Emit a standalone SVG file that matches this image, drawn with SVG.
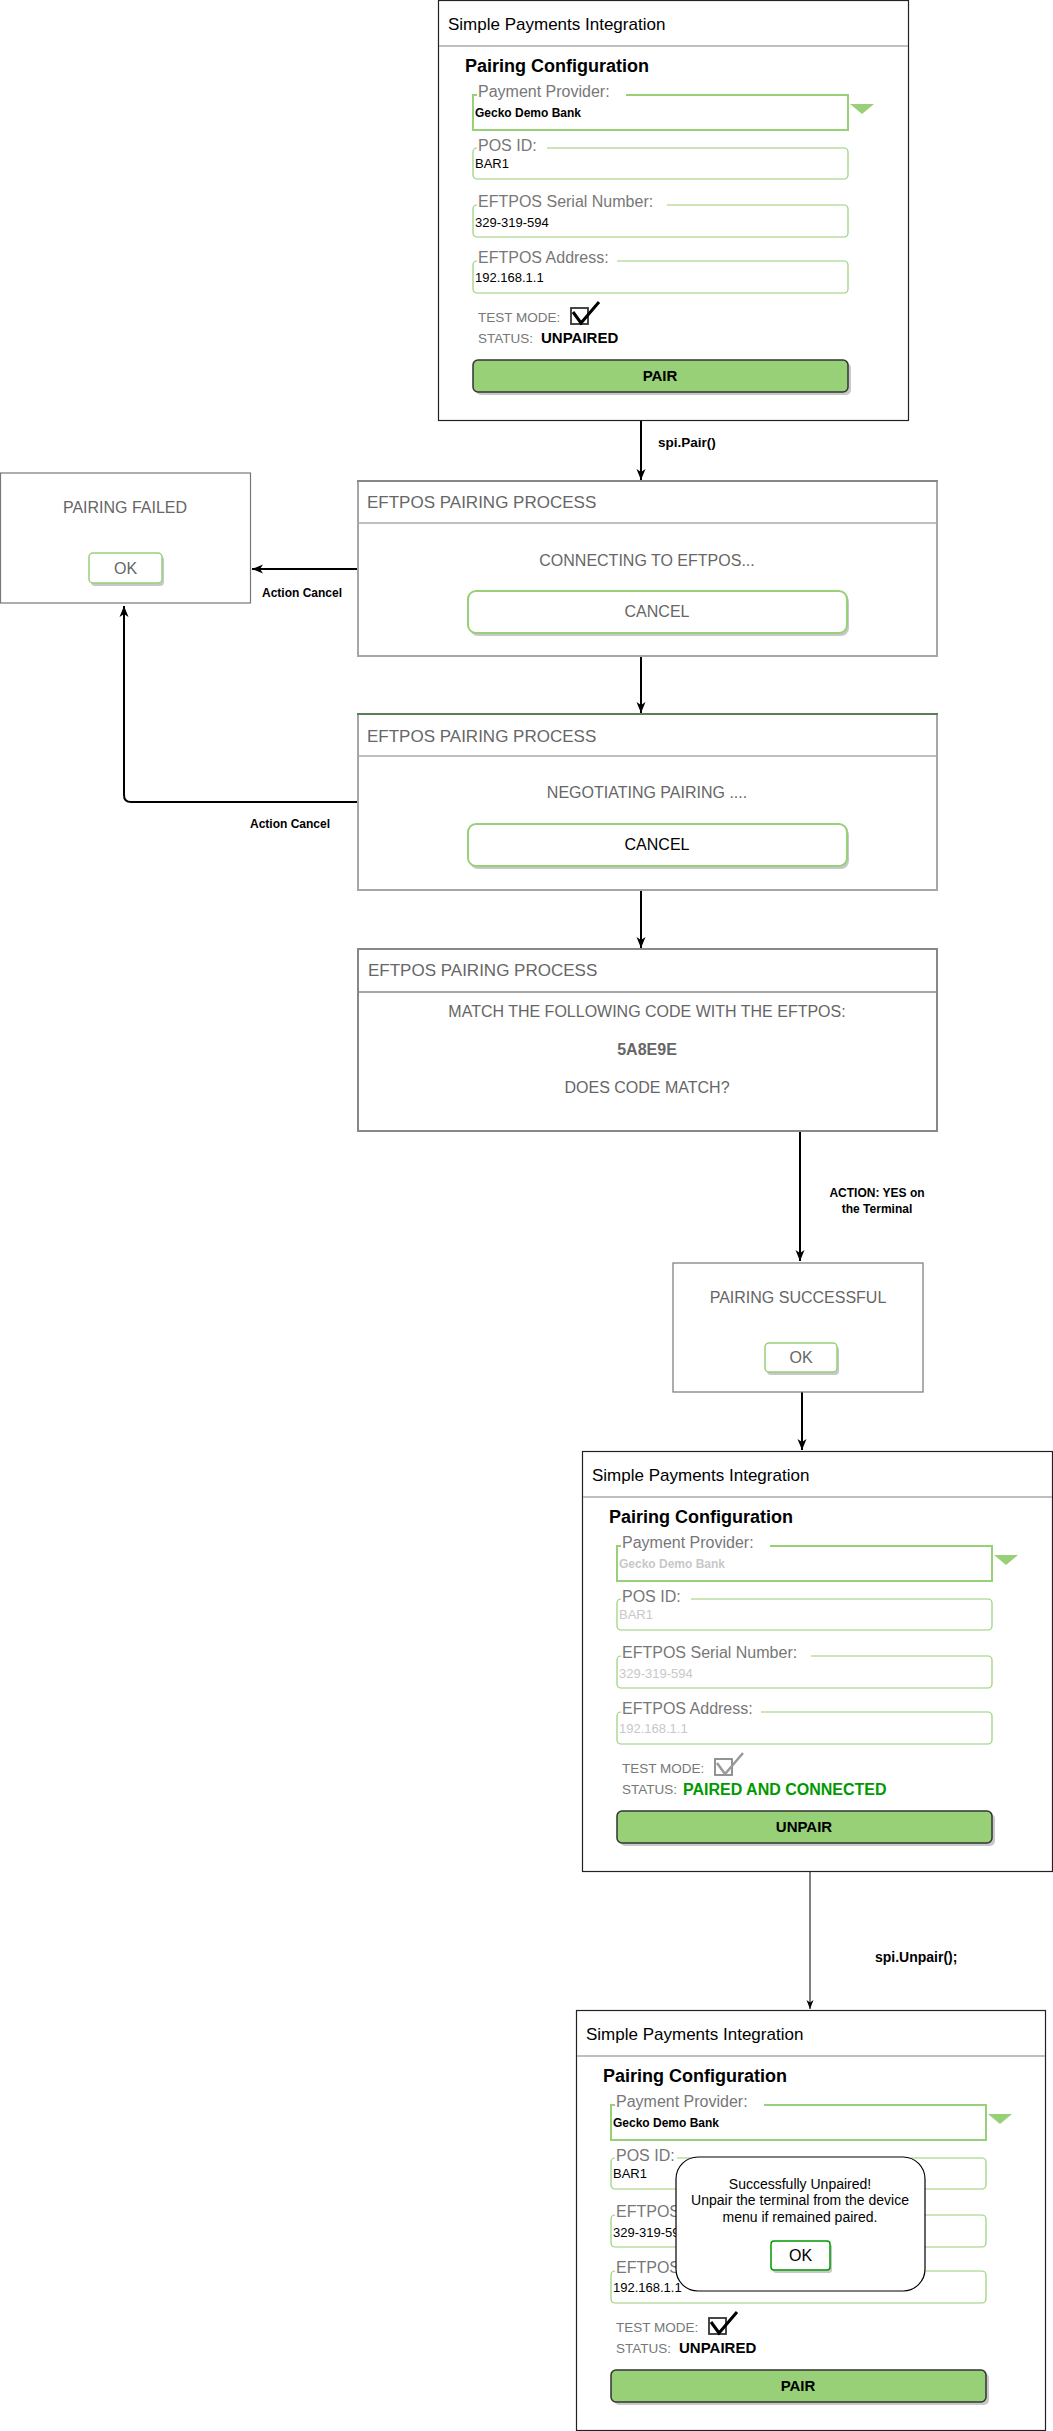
<svg xmlns="http://www.w3.org/2000/svg" width="1053" height="2431" viewBox="0 0 1053 2431">
<style>
text{font-family:"Liberation Sans",Arial,Helvetica,sans-serif}
.t17{font-size:17px;fill:#000}
.h18{font-size:18px;font-weight:bold;fill:#000}
.lbl{font-size:16px;fill:#777}
.val{font-size:13px;fill:#000}
.valg{font-size:13px;fill:#c8c8c8}
.bv{font-size:12px;font-weight:bold;fill:#000}
.bvg{font-size:12px;font-weight:bold;fill:#c8c8c8}
.sm{font-size:13.5px;fill:#777}
.fld{fill:none;stroke:#97D077;stroke-width:1.2}
.fld2{fill:none;stroke:#97D077;stroke-width:2}
.win{fill:#fff;stroke:#222;stroke-width:1.2}
.sep{stroke:#aaa;stroke-width:1.5}
.btn{fill:#97D077;stroke:#333;stroke-width:1.5}
.shd{fill:#c8c8c8}
.btxt{font-size:15px;font-weight:bold;fill:#000;text-anchor:middle}
.ebox{fill:#fff;stroke:#a6a6a6;stroke-width:2}
.etitle{font-size:17px;fill:#666}
.ebody{font-size:16px;fill:#666;text-anchor:middle}
.gbtn{fill:#fff;stroke:#97D077;stroke-width:2}
.edge{fill:none;stroke:#000;stroke-width:2}
.edge1{fill:none;stroke:#000;stroke-width:1}
.elbl{font-size:12px;font-weight:bold;fill:#000}
.pbox{fill:#fff;stroke:#777;stroke-width:1.2}
</style>
<defs>
<marker id="arr" markerUnits="userSpaceOnUse" markerWidth="12" markerHeight="12" viewBox="0 0 12 12" refX="11" refY="6" orient="auto">
<path d="M0,1.5 L11,6 L0,10.5 L3,6 z" fill="#000"/>
</marker>
<marker id="arrs" markerUnits="userSpaceOnUse" markerWidth="10" markerHeight="10" viewBox="0 0 10 10" refX="9" refY="5" orient="auto">
<path d="M0,1.5 L9,5 L0,8.5 L2.5,5 z" fill="#000"/>
</marker>
<clipPath id="clipA"><rect x="0" y="0" width="100" height="420"/></clipPath>
<clipPath id="clipB"><rect x="0" y="0" width="111" height="420"/></clipPath>
</defs>

<g id="connectors">
<path class="edge" d="M641,421 L641,480" marker-end="url(#arr)"/>
<path class="edge" d="M357,569 L252,569" marker-end="url(#arr)"/>
<path class="edge" d="M641,656 L641,713" marker-end="url(#arr)"/>
<path class="edge" d="M357,802 L131,802 Q124,802 124,795 L124,606" marker-end="url(#arr)"/>
<path class="edge" d="M641,890 L641,948" marker-end="url(#arr)"/>
<path class="edge" d="M800,1131 L800,1261" marker-end="url(#arr)"/>
<path class="edge" d="M802,1392 L802,1450" marker-end="url(#arr)"/>
<path class="edge1" d="M810,1871 L810,2009" marker-end="url(#arrs)"/>
<text class="elbl" x="658" y="447" style="font-size:13.5px">spi.Pair()</text>
<text class="elbl" x="262" y="597">Action Cancel</text>
<text class="elbl" x="250" y="828">Action Cancel</text>
<text class="elbl" x="877" y="1197" text-anchor="middle">ACTION: YES on</text>
<text class="elbl" x="877" y="1213" text-anchor="middle">the Terminal</text>
<text class="elbl" x="875" y="1962" style="font-size:14px">spi.Unpair();</text>
</g>

<g id="spi-config-unpaired" transform="translate(438,0)">
<rect class="win" x="0.5" y="0.5" width="470" height="420"/>
<line class="sep" x1="1" y1="46" x2="470" y2="46"/>
<text class="t17" x="10" y="30">Simple Payments Integration</text>
<text class="h18" x="27" y="72">Pairing Configuration</text>
<rect class="fld2" x="35" y="95" width="375" height="35"/>
<rect x="39" y="85" width="149" height="14" fill="#fff"/>
<text class="lbl" x="40" y="97">Payment Provider:</text>
<text class="bv" x="37" y="117">Gecko Demo Bank</text>
<path d="M412,104 L436,104 L424,114 z" fill="#97D077"/>
<rect class="fld" x="35" y="148" width="375" height="31" rx="4"/>
<rect x="39" y="138" width="70" height="14" fill="#fff"/>
<text class="lbl" x="40" y="151">POS ID:</text>
<text class="val" x="37" y="168">BAR1</text>
<rect class="fld" x="35" y="205" width="375" height="32" rx="4"/>
<rect x="39" y="195" width="190" height="14" fill="#fff"/>
<text class="lbl" x="40" y="207">EFTPOS Serial Number:</text>
<text class="val" x="37" y="227">329-319-594</text>
<rect class="fld" x="35" y="261" width="375" height="32" rx="4"/>
<rect x="39" y="251" width="140" height="14" fill="#fff"/>
<text class="lbl" x="40" y="263">EFTPOS Address:</text>
<text class="val" x="37" y="282">192.168.1.1</text>
<text class="sm" x="40" y="322">TEST MODE:</text>
<rect x="133" y="308" width="17" height="16" fill="none" stroke="#333" stroke-width="1.8"/>
<path d="M135,312 L143,323 L161,302" fill="none" stroke="#000" stroke-width="3"/>
<text class="sm" x="40" y="343">STATUS:</text>
<text x="103" y="343" style="font-size:15px;font-weight:bold;fill:#000">UNPAIRED</text>
<rect class="shd" x="38" y="363" width="375" height="32" rx="5"/>
<rect class="btn" x="35" y="360" width="375" height="32" rx="5"/>
<text class="btxt" x="222" y="381">PAIR</text>
</g>

<g id="pairing-failed">
<rect class="pbox" x="0.5" y="473" width="250" height="130"/>
<text class="ebody" x="125" y="513">PAIRING FAILED</text>
<rect class="shd" x="91" y="556" width="73" height="30" rx="4"/>
<rect class="gbtn" x="89" y="553" width="73" height="30" rx="4" style="stroke-width:1.5"/>
<text class="ebody" x="125.5" y="574">OK</text>
</g>

<g id="eftpos-connecting">
<rect class="ebox" x="358" y="481" width="579" height="175"/>
<line x1="357" y1="481" x2="938" y2="481" stroke="#888" stroke-width="2"/>
<line class="sep" x1="359" y1="523" x2="936" y2="523"/>
<text class="etitle" x="367" y="508">EFTPOS PAIRING PROCESS</text>
<text class="ebody" x="647" y="566">CONNECTING TO EFTPOS...</text>
<rect class="shd" x="470" y="594" width="379" height="42" rx="8"/>
<rect class="gbtn" x="468" y="591" width="379" height="42" rx="8"/>
<text class="ebody" x="657" y="617">CANCEL</text>
</g>

<g id="eftpos-negotiating">
<rect class="ebox" x="358" y="714" width="579" height="176"/>
<line x1="357" y1="714" x2="938" y2="714" stroke="#5b7f5b" stroke-width="2"/>
<line class="sep" x1="359" y1="756" x2="936" y2="756"/>
<text class="etitle" x="367" y="742">EFTPOS PAIRING PROCESS</text>
<text class="ebody" x="647" y="798">NEGOTIATING PAIRING ....</text>
<rect class="shd" x="470" y="827" width="379" height="42" rx="8"/>
<rect class="gbtn" x="468" y="824" width="379" height="42" rx="8"/>
<text class="ebody" x="657" y="850" style="fill:#000">CANCEL</text>
</g>

<g id="eftpos-match">
<rect class="ebox" x="358" y="949" width="579" height="182" style="stroke:#888"/>
<line class="sep" x1="359" y1="992" x2="936" y2="992" style="stroke:#888"/>
<text class="etitle" x="368" y="976">EFTPOS PAIRING PROCESS</text>
<text class="ebody" x="647" y="1017">MATCH THE FOLLOWING CODE WITH THE EFTPOS:</text>
<text class="ebody" x="647" y="1055" style="font-weight:bold">5A8E9E</text>
<text class="ebody" x="647" y="1093">DOES CODE MATCH?</text>
</g>

<g id="pairing-successful">
<rect class="pbox" x="673" y="1263" width="250" height="129"/>
<text class="ebody" x="798" y="1303">PAIRING SUCCESSFUL</text>
<rect class="shd" x="767" y="1346" width="72" height="29" rx="4"/>
<rect class="gbtn" x="765" y="1343" width="72" height="29" rx="4" style="stroke-width:1.5"/>
<text class="ebody" x="801" y="1363">OK</text>
</g>

<g id="spi-config-paired" transform="translate(582,1451)">
<rect class="win" x="0.5" y="0.5" width="470" height="420"/>
<line class="sep" x1="1" y1="46" x2="470" y2="46"/>
<text class="t17" x="10" y="30">Simple Payments Integration</text>
<text class="h18" x="27" y="72">Pairing Configuration</text>
<rect class="fld2" x="35" y="95" width="375" height="35"/>
<rect x="39" y="85" width="149" height="14" fill="#fff"/>
<text class="lbl" x="40" y="97">Payment Provider:</text>
<text class="bvg" x="37" y="117">Gecko Demo Bank</text>
<path d="M412,104 L436,104 L424,114 z" fill="#97D077"/>
<rect class="fld" x="35" y="148" width="375" height="31" rx="4"/>
<rect x="39" y="138" width="70" height="14" fill="#fff"/>
<text class="lbl" x="40" y="151">POS ID:</text>
<text class="valg" x="37" y="168">BAR1</text>
<rect class="fld" x="35" y="205" width="375" height="32" rx="4"/>
<rect x="39" y="195" width="190" height="14" fill="#fff"/>
<text class="lbl" x="40" y="207">EFTPOS Serial Number:</text>
<text class="valg" x="37" y="227">329-319-594</text>
<rect class="fld" x="35" y="261" width="375" height="32" rx="4"/>
<rect x="39" y="251" width="140" height="14" fill="#fff"/>
<text class="lbl" x="40" y="263">EFTPOS Address:</text>
<text class="valg" x="37" y="282">192.168.1.1</text>
<text class="sm" x="40" y="322">TEST MODE:</text>
<rect x="133" y="308" width="17" height="16" fill="none" stroke="#888" stroke-width="1.8"/>
<path d="M135,312 L143,323 L161,302" fill="none" stroke="#999" stroke-width="2.5"/>
<text class="sm" x="40" y="343">STATUS:</text>
<text x="101" y="344" style="font-size:16px;font-weight:bold;fill:#009900">PAIRED AND CONNECTED</text>
<rect class="shd" x="38" y="363" width="375" height="32" rx="5"/>
<rect class="btn" x="35" y="360" width="375" height="32" rx="5"/>
<text class="btxt" x="222" y="381">UNPAIR</text>
</g>

<g id="spi-config-unpaired-2" transform="translate(576,2010)">
<rect class="win" x="0.5" y="0.5" width="469" height="420"/>
<line class="sep" x1="1" y1="46" x2="469" y2="46"/>
<text class="t17" x="10" y="30">Simple Payments Integration</text>
<text class="h18" x="27" y="72">Pairing Configuration</text>
<rect class="fld2" x="35" y="95" width="375" height="35"/>
<rect x="39" y="85" width="149" height="14" fill="#fff"/>
<text class="lbl" x="40" y="97">Payment Provider:</text>
<text class="bv" x="37" y="117">Gecko Demo Bank</text>
<path d="M412,104 L436,104 L424,114 z" fill="#97D077"/>
<rect class="fld" x="35" y="148" width="375" height="31" rx="4"/>
<rect x="39" y="138" width="62" height="14" fill="#fff"/>
<text class="lbl" x="40" y="151">POS ID:</text>
<text class="val" x="37" y="168">BAR1</text>
<rect class="fld" x="35" y="205" width="375" height="32" rx="4"/>
<rect x="39" y="195" width="61" height="14" fill="#fff"/>
<text class="lbl" x="40" y="207" clip-path="url(#clipA)">EFTPOS Serial Number:</text>
<text class="val" x="37" y="227" clip-path="url(#clipA)">329-319-594</text>
<rect class="fld" x="35" y="261" width="375" height="32" rx="4"/>
<rect x="39" y="251" width="61" height="14" fill="#fff"/>
<text class="lbl" x="40" y="263" clip-path="url(#clipA)">EFTPOS Address:</text>
<text class="val" x="37" y="282" clip-path="url(#clipB)">192.168.1.1</text>
<text class="sm" x="40" y="322">TEST MODE:</text>
<rect x="133" y="308" width="17" height="16" fill="none" stroke="#333" stroke-width="1.8"/>
<path d="M135,312 L143,323 L161,302" fill="none" stroke="#000" stroke-width="3"/>
<text class="sm" x="40" y="343">STATUS:</text>
<text x="103" y="343" style="font-size:15px;font-weight:bold;fill:#000">UNPAIRED</text>
<rect class="shd" x="38" y="363" width="375" height="32" rx="5"/>
<rect class="btn" x="35" y="360" width="375" height="32" rx="5"/>
<text class="btxt" x="222" y="381">PAIR</text>
</g>

<g id="unpaired-popup">
<rect x="676" y="2157" width="249" height="134" rx="22" fill="#fff" stroke="#000" stroke-width="1.2"/>
<text x="800" y="2189" text-anchor="middle" style="font-size:14px;fill:#000">Successfully Unpaired!</text>
<text x="800" y="2205" text-anchor="middle" style="font-size:14px;fill:#000">Unpair the terminal from the device</text>
<text x="800" y="2222" text-anchor="middle" style="font-size:14px;fill:#000">menu if remained paired.</text>
<rect class="shd" x="773" y="2244" width="59" height="29" rx="3"/>
<rect x="771" y="2241" width="59" height="29" rx="3" fill="#fff" stroke="#009900" stroke-width="1.5"/>
<text x="800.5" y="2261" text-anchor="middle" style="font-size:16px;fill:#000">OK</text>
</g>
</svg>
